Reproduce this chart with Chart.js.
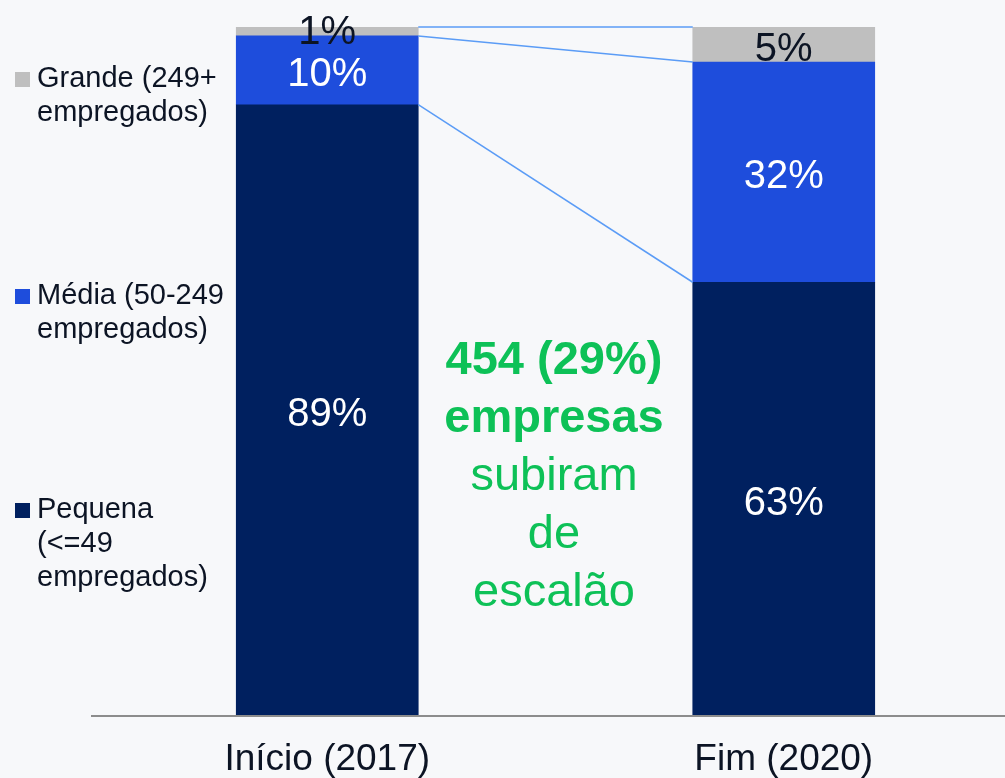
<!DOCTYPE html>
<html>
<head>
<meta charset="utf-8">
<script src="https://cdn.jsdelivr.net/npm/chart.js@4.4.1/dist/chart.umd.min.js"></script>
<style>
  html, body { margin: 0; padding: 0; background: #f7f8fa; overflow: hidden; }
  #chart { display: block; }
</style>
</head>
<body>
<canvas id="chart" width="1012" height="778"></canvas>
<script>
// data (shares in %, labels are rounded)
var categories = ['Início (2017)', 'Fim (2020)'];
var pequena = [88.7, 62.9];
var media = [10.0, 32.0];
var grande = [1.3, 5.1];
var seriesNames = [
  ['Pequena', '(<=49', 'empregados)'],
  ['Média (50-249', 'empregados)'],
  ['Grande (249+', 'empregados)']
];
var noteLines = ['454 (29%)', 'empresas', 'subiram', 'de', 'escalão'];
var noteBold = [true, true, false, false, false];

var navy = '#00205f', blue = '#1e4ddc', grey = '#bfbfbf';
var dark = '#0c1424', green = '#0dc157', link = '#5b9cf6';
var font = '"Liberation Sans", Arial, sans-serif';

// labels, connectors, legend and note
var extras = {
  id: 'extras',
  beforeDatasetsDraw: function(chart){
    var c = chart.ctx, area = chart.chartArea;
    // axis line
    c.save();
    c.strokeStyle = '#8c8c8c';
    c.lineWidth = 2;
    c.beginPath();
    c.moveTo(91, area.bottom + 1);
    c.lineTo(chart.width, area.bottom + 1);
    c.stroke();
    c.restore();
  },
  afterDatasetsDraw: function(chart){
    var c = chart.ctx;
    var metas = [0, 1, 2].map(function(i){ return chart.getDatasetMeta(i); });

    // connector lines between bar edges
    c.save();
    c.strokeStyle = link;
    c.lineWidth = 1.5;
    metas.forEach(function(m){
      var a = m.data[0], b = m.data[1];
      c.beginPath();
      c.moveTo(a.x + a.width / 2, a.y);
      c.lineTo(b.x - b.width / 2, b.y);
      c.stroke();
    });
    c.restore();

    // value labels
    c.save();
    c.textAlign = 'center';
    c.textBaseline = 'middle';
    c.font = '40px ' + font;
    metas.forEach(function(m, di){
      m.data.forEach(function(bar, i){
        var v = chart.data.datasets[di].data[i];
        var y = (bar.y + bar.base) / 2 + 5;
        if (di === 2) { c.fillStyle = dark; if (i === 0) y = bar.y + 6; }
        else c.fillStyle = '#ffffff';
        c.fillText(Math.round(v) + '%', bar.x, y);
      });
    });
    c.restore();

    // legend
    var legendY = [510, 296, 79];
    c.save();
    c.font = '29px ' + font;
    c.textBaseline = 'middle';
    c.textAlign = 'left';
    chart.data.datasets.forEach(function(ds, i){
      c.fillStyle = ds.backgroundColor;
      c.fillRect(15, legendY[i] - 7, 15, 15);
      c.fillStyle = dark;
      seriesNames[i].forEach(function(line, k){
        c.fillText(line, 37, legendY[i] + k * 34);
      });
    });
    c.restore();

    // note in the middle
    c.save();
    c.fillStyle = green;
    c.textAlign = 'center';
    c.textBaseline = 'middle';
    noteLines.forEach(function(line, k){
      c.font = (noteBold[k] ? 'bold ' : '') + '47px ' + font;
      c.fillText(line, 554, 361 + k * 58);
    });
    c.restore();
  }
};

new Chart(document.getElementById('chart').getContext('2d'), {
  type: 'bar',
  data: {
    labels: categories,
    datasets: [
      { label: seriesNames[0].join(' '), data: pequena, backgroundColor: navy },
      { label: seriesNames[1].join(' '), data: media, backgroundColor: blue },
      { label: seriesNames[2].join(' '), data: grande, backgroundColor: grey }
    ]
  },
  options: {
    responsive: false,
    animation: false,
    events: [],
    barThickness: 182,
    layout: { padding: { top: 27, left: 99, right: 0, bottom: 0 } },
    plugins: { legend: { display: false }, tooltip: { enabled: false } },
    scales: {
      x: {
        stacked: true,
        grid: { display: false, drawTicks: false },
        border: { display: false },
        ticks: { padding: 23, color: dark, font: { family: font, size: 37 } },
        afterFit: function(scale){ scale.height = 63; }
      },
      y: { stacked: true, display: false, min: 0, max: 100 }
    }
  },
  plugins: [extras]
});
</script>
</body>
</html>
